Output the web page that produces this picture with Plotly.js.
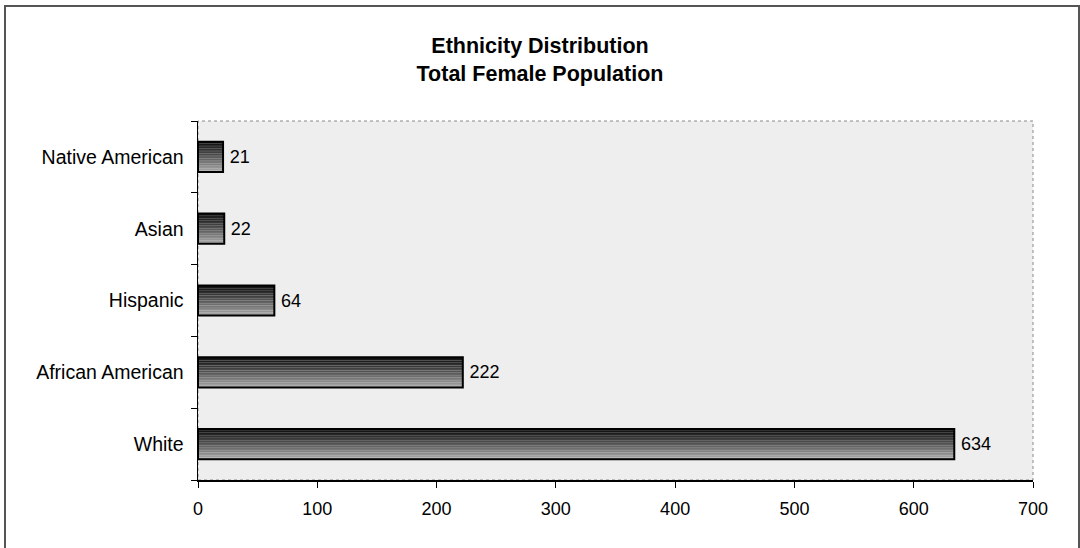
<!DOCTYPE html>
<html>
<head>
<meta charset="utf-8">
<script src="https://cdn.plot.ly/plotly-3.0.1.min.js"></script>
<style>
html,body{margin:0;padding:0;background:#fff;}
#chart{width:1080px;height:548px;}
</style>
</head>
<body>
<div id="chart"></div>
<script>
// Data (bottom to top in the chart)
const categories = ["White", "African American", "Hispanic", "Asian", "Native American"];
const femaleCounts = [634, 222, 64, 22, 21];
const xTickValues = [0, 100, 200, 300, 400, 500, 600, 700];

// Style: vertical gradient emulated by overlaid bands (top dark -> bottom light)
const nb = 18;
const bandColors = [];
for (let i = 0; i < nb; i++) {
  const t = i / (nb - 1);
  const v = Math.round(16 + (168 - 16) * Math.pow(t, 1.1));
  bandColors.push(`rgb(${v},${v},${v})`);
}
const barWidth = 0.42;

const traces = [];
const bw = barWidth / nb;
bandColors.forEach((c, i) => {
  traces.push({
    type: "bar",
    orientation: "h",
    x: femaleCounts,
    y: categories,
    width: bw * 1.05,
    offset: barWidth / 2 - (i + 1) * bw,
    marker: {color: c, line: {width: 0}},
    hoverinfo: "skip",
    showlegend: false
  });
});
traces.push({
  type: "bar",
  orientation: "h",
  x: femaleCounts,
  y: categories,
  width: barWidth,
  offset: -barWidth / 2,
  marker: {color: "rgba(0,0,0,0)", line: {color: "#000", width: 2}},
  text: femaleCounts.map(v => "\u2009" + v),
  textposition: "outside",
  textfont: {family: "Liberation Sans, Arial, sans-serif", size: 18, color: "#000"},
  cliponaxis: false,
  hoverinfo: "skip",
  showlegend: false
});

const layout = {
  width: 1080,
  height: 548,
  margin: {l: 198, r: 47, t: 121, b: 68, pad: 0},
  paper_bgcolor: "#ffffff",
  plot_bgcolor: "#eeeeee",
  barmode: "overlay",
  font: {family: "Liberation Sans, Arial, sans-serif", color: "#000"},
  title: {
    text: "<b>Ethnicity Distribution</b><br><b>Total Female Population</b>",
    font: {family: "Liberation Sans, Arial, sans-serif", size: 21.5, color: "#000"},
    x: 0.5, xref: "container", xanchor: "center",
    y: 1 - 53 / 548, yref: "container", yanchor: "top"
  },
  xaxis: {
    range: [0, 700],
    tickvals: xTickValues,
    ticktext: xTickValues.map(String),
    ticks: "outside", ticklen: 6, tickwidth: 1, tickcolor: "#000",
    showline: true, linecolor: "#000", linewidth: 1.5,
    showgrid: false, zeroline: false,
    tickfont: {size: 18, color: "#000"},
    ticklabelstandoff: 6,
    fixedrange: true
  },
  yaxis: {
    type: "category",
    categoryorder: "array",
    categoryarray: categories,
    tickson: "boundaries",
    ticks: "outside", ticklen: 6, tickwidth: 1, tickcolor: "#000",
    showline: true, linecolor: "#000", linewidth: 1.5,
    showgrid: false, zeroline: false,
    tickfont: {size: 19.5, color: "#000"},
    ticklabelstandoff: 9,
    fixedrange: true
  },
  shapes: [
    {type: "rect", xref: "paper", yref: "paper", x0: 0, x1: 1, y0: 0, y1: 1,
     line: {color: "#8a8a8a", width: 1, dash: "dot"}, layer: "below"},
    {type: "rect", xref: "paper", yref: "paper",
     x0: (5 - 198) / 835, x1: (1079 - 198) / 835,
     y0: (480 - 560) / 359, y1: (480 - 6) / 359,
     line: {color: "#555", width: 2}, fillcolor: "rgba(0,0,0,0)", layer: "below"}
  ]
};

Plotly.newPlot("chart", traces, layout, {displayModeBar: false, staticPlot: true});
</script>
</body>
</html>
